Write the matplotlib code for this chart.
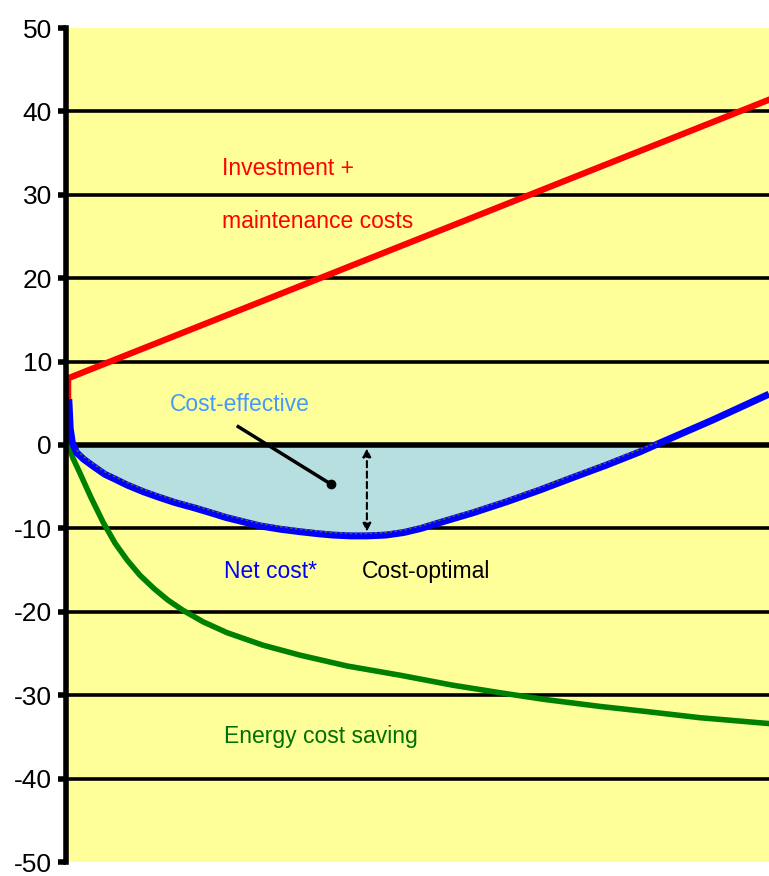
import matplotlib
matplotlib.use("Agg")
import matplotlib.pyplot as plt
import matplotlib.transforms as mtransforms

plt.rcParams['font.family'] = ['Liberation Sans Narrow', 'Liberation Sans', 'DejaVu Sans']

# ---- data ----
y_ticks = [-50, -40, -30, -20, -10, 0, 10, 20, 30, 40, 50]
grid_levels = [-40, -30, -20, -10, 10, 20, 30, 40]

invest_x = [0.3, 0.3, 100]
invest_y = [0, 8, 41.4]

saving_x = [0.3, 1.0, 2.0, 3.5, 5.3, 7.0, 8.7, 10.5, 12.5, 14.5, 16.6, 19.5, 22.9, 28.0,
            33.3, 40.0, 47.5, 55.0, 61.7, 68.0, 76.0, 83.0, 90.2, 100]
saving_y = [0, -1.6, -3.4, -6.2, -9.3, -11.8, -13.8, -15.6, -17.2, -18.6, -19.8, -21.2,
            -22.5, -24.0, -25.2, -26.5, -27.6, -28.8, -29.7, -30.5, -31.35, -32.0, -32.7, -33.4]

net_x = [0.4, 0.6, 0.9, 1.5, 2.5, 3.8, 5.5, 7.0, 8.7, 11.0, 13.0, 15.5, 18.1, 20.5, 22.8,
         25.2, 27.6, 30.5, 33.3, 36.0, 38.0, 40.5, 42.8, 45.5, 48.0, 50.5, 53.2,
         58.0, 62.7, 67.4, 72.1, 76.9, 81.7, 84.1, 92.0, 100]
net_y = [5.5, 2.0, 0.3, -0.9, -1.7, -2.5, -3.5, -4.1, -4.8, -5.6, -6.2, -6.9, -7.5, -8.1,
         -8.7, -9.2, -9.7, -10.1, -10.4, -10.65, -10.8, -10.9, -10.9, -10.8, -10.5, -10.0, -9.3,
         -8.1, -6.8, -5.4, -3.9, -2.4, -0.8, 0.1, 3.0, 6.1]

optimum_x = 42.8
optimum_y = -10.8

fig = plt.figure(figsize=(7.69, 8.76), dpi=100)
ax = fig.add_axes([66/769, 14/876, 1 - 66/769, (862-28)/876])
ax.set_facecolor('#ffff99')
ax.set_xlim(0, 100)
ax.set_ylim(-50, 50)

# gridlines
for g in grid_levels:
    ax.axhline(g, color='black', lw=2.6, zorder=1)

# cost-effective fill
fill_x = [x for x, y in zip(net_x, net_y) if y <= 0.35]
fill_y = [min(y, 0) for x, y in zip(net_x, net_y) if y <= 0.35]
ax.fill_between(fill_x, fill_y, 0, color='#b8dfe0', zorder=2, lw=0)
ax.axhline(0, color='black', lw=4, zorder=3)

# net cost curve
ax.plot(net_x, net_y, color='#0000ff', lw=5, zorder=5, solid_capstyle='butt')
off = mtransforms.offset_copy(ax.transData, fig=fig, x=0, y=2.5, units='dots')
ax.plot(fill_x[1:], fill_y[1:], color='#555555', lw=1.2, ls=(0, (1.5, 1.5)), zorder=6, transform=off)

# investment and savings
ax.plot(invest_x, invest_y, color='#ff0000', lw=4.5, zorder=4, solid_joinstyle='miter')
ax.plot(saving_x, saving_y, color='#008000', lw=4, zorder=4)

# dotted double arrow
ax.annotate('', xy=(optimum_x, optimum_y + 0.4), xytext=(optimum_x, -0.4),
            arrowprops=dict(arrowstyle='<|-|>', color='black', lw=1.5, ls=(0, (3, 2)),
                            mutation_scale=12, shrinkA=0, shrinkB=0), zorder=7)

# cost-effective pointer
ax.plot([24.5, 37.7], [2.2, -4.7], color='black', lw=2.5, zorder=7)
ax.plot([37.7], [-4.7], 'o', color='black', ms=6, zorder=7)

# labels
fs = 16.5
ax.text(22.2, 33.2, 'Investment +', color='#ff0000', fontsize=fs, va='center', ha='left')
ax.text(22.2, 26.8, 'maintenance costs', color='#ff0000', fontsize=fs, va='center', ha='left')
ax.text(14.8, 4.8, 'Cost-effective', color='#4499ff', fontsize=fs, va='center', ha='left')
ax.text(22.5, -15.2, 'Net cost*', color='#0000ff', fontsize=fs, va='center', ha='left')
ax.text(42.1, -15.2, 'Cost-optimal', color='black', fontsize=fs, va='center', ha='left')
ax.text(22.5, -34.9, 'Energy cost saving', color='#007000', fontsize=fs, va='center', ha='left')

# axes styling
ax.set_yticks(y_ticks)
ax.set_yticklabels([str(t) for t in y_ticks], fontsize=19)
ax.set_xticks([])
for s in ['top', 'right', 'bottom']:
    ax.spines[s].set_visible(False)
ax.spines['left'].set_linewidth(4)
ax.spines['left'].set_zorder(8)
ax.tick_params(axis='y', length=6, width=4, color='black', pad=4)

fig.savefig('out.png', dpi=100, facecolor='white')
